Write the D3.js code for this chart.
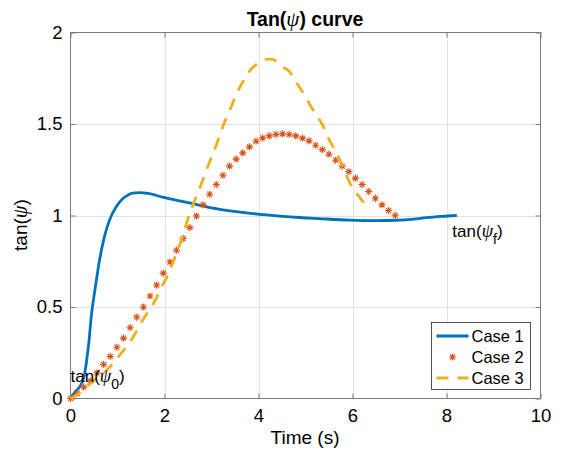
<!DOCTYPE html>
<html>
<head>
<meta charset="utf-8">
<script src="https://cdn.jsdelivr.net/npm/d3@7"></script>
<style>
  html, body { margin: 0; padding: 0; background: #fff; }
  svg { display: block; }
  text { font-family: "Liberation Sans", Arial, Helvetica, sans-serif; fill: #000; }
  .psi { font-family: "Liberation Serif", "DejaVu Serif", serif; font-style: italic; font-size: 1.08em; }
</style>
</head>
<body>
<svg id="chart" width="561" height="453"></svg>
<script>
// Case 1: fast rise, overshoot, settles back to 1
const case1Time = [0, 0.05, 0.1, 0.15, 0.19, 0.25, 0.30, 0.35, 0.40, 0.44, 0.50, 0.55, 0.60, 0.65, 0.70, 0.76, 0.83, 0.90, 0.97, 1.04, 1.11, 1.20, 1.29, 1.38, 1.47, 1.57, 1.68, 1.80, 1.96, 2.15, 2.32, 2.50, 2.67, 3.03, 3.40, 3.74, 4.10, 4.45, 4.87, 5.30, 5.94, 6.50, 6.93, 7.30, 7.57, 7.90, 8.22];
const case1Tan = [0, 0.018, 0.038, 0.05, 0.062, 0.09, 0.135, 0.22, 0.33, 0.445, 0.56, 0.645, 0.73, 0.80, 0.86, 0.92, 0.974, 1.015, 1.047, 1.072, 1.092, 1.108, 1.12, 1.124, 1.125, 1.123, 1.12, 1.112, 1.10, 1.09, 1.08, 1.07, 1.061, 1.04, 1.025, 1.014, 1.005, 0.997, 0.989, 0.983, 0.975, 0.972, 0.974, 0.98, 0.988, 0.995, 1.0];

// Case 2: sampled points drawn as asterisks
const case2Time = [0, 0.141, 0.282, 0.423, 0.564, 0.705, 0.846, 0.987, 1.128, 1.269, 1.41, 1.551, 1.692, 1.833, 1.974, 2.115, 2.256, 2.397, 2.538, 2.679, 2.82, 2.961, 3.102, 3.243, 3.384, 3.525, 3.666, 3.807, 3.948, 4.089, 4.23, 4.371, 4.512, 4.653, 4.794, 4.935, 5.076, 5.217, 5.358, 5.499, 5.64, 5.781, 5.922, 6.063, 6.204, 6.345, 6.486, 6.627, 6.768, 6.909];
const case2Tan = [0, 0.029, 0.062, 0.095, 0.14, 0.186, 0.23, 0.28, 0.33, 0.387, 0.445, 0.50, 0.56, 0.62, 0.685, 0.746, 0.81, 0.874, 0.934, 0.997, 1.058, 1.116, 1.169, 1.22, 1.27, 1.308, 1.342, 1.375, 1.406, 1.424, 1.435, 1.443, 1.446, 1.443, 1.435, 1.423, 1.408, 1.384, 1.36, 1.335, 1.302, 1.27, 1.24, 1.204, 1.169, 1.131, 1.094, 1.058, 1.027, 1.001];

// Case 3: slow start, large overshoot
const case3Time = [0, 0.16, 0.37, 0.55, 0.75, 0.9, 1.04, 1.18, 1.33, 1.43, 1.54, 1.64, 1.79, 1.93, 2.07, 2.18, 2.28, 2.39, 2.5, 2.67, 2.81, 2.92, 3.0, 3.1, 3.2, 3.31, 3.42, 3.52, 3.63, 3.77, 3.88, 3.99, 4.1, 4.2, 4.3, 4.45, 4.56, 4.66, 4.75, 4.84, 4.98, 5.12, 5.26, 5.40, 5.51, 5.65, 5.76, 5.87, 5.97, 6.06, 6.15, 6.24, 6.33];
const case3Tan = [0, 0.025, 0.07, 0.108, 0.15, 0.19, 0.235, 0.28, 0.335, 0.38, 0.43, 0.47, 0.53, 0.605, 0.673, 0.745, 0.81, 0.89, 0.983, 1.10, 1.19, 1.266, 1.32, 1.384, 1.457, 1.53, 1.594, 1.658, 1.713, 1.776, 1.81, 1.83, 1.848, 1.855, 1.853, 1.827, 1.805, 1.786, 1.75, 1.713, 1.658, 1.594, 1.54, 1.476, 1.41, 1.348, 1.284, 1.22, 1.165, 1.13, 1.10, 1.07, 1.038];

const xTicks = [0, 2, 4, 6, 8, 10];
const yTicks = [0, 0.5, 1, 1.5, 2];
const legendLabels = ["Case 1", "Case 2", "Case 3"];
const colors = ["#0072BD", "#D95319", "#EDB120"];

const svg = d3.select("#chart");
const plotLeft = 70.5, plotRight = 540.5, plotTop = 32.5, plotBottom = 398.5;

const x = d3.scaleLinear().domain([0, 10]).range([plotLeft, plotRight]);
const y = d3.scaleLinear().domain([0, 2]).range([plotBottom, plotTop]);

// grid
const grid = svg.append("g");
grid.selectAll(".gx").data(xTicks.slice(1, -1)).join("line")
  .attr("x1", d => Math.round(x(d)) + 0.5).attr("x2", d => Math.round(x(d)) + 0.5)
  .attr("y1", plotTop).attr("y2", plotBottom)
  .attr("stroke", "#e3e3e3").attr("stroke-width", 1);
grid.selectAll(".gy").data(yTicks.slice(1, -1)).join("line")
  .attr("y1", d => Math.round(y(d)) + 0.5).attr("y2", d => Math.round(y(d)) + 0.5)
  .attr("x1", plotLeft).attr("x2", plotRight)
  .attr("stroke", "#e3e3e3").attr("stroke-width", 1);

// axes with inward ticks on all four sides
const tickLen = 5;
const axisColor = "#7a7a7a";
function styleAxis(g) {
  g.select(".domain").remove();
  g.selectAll(".tick line").attr("stroke", axisColor);
  g.selectAll(".tick text").style("font-size", "18.5px").attr("fill", "#262626");
}
svg.append("g").attr("transform", `translate(0,${plotBottom})`)
  .call(d3.axisBottom(x).tickValues(xTicks).tickFormat(d3.format("d")).tickSizeInner(-tickLen).tickPadding(10))
  .call(styleAxis);
svg.append("g").attr("transform", `translate(0,${plotTop})`)
  .call(d3.axisTop(x).tickValues(xTicks).tickFormat("").tickSizeInner(-tickLen))
  .call(styleAxis);
svg.append("g").attr("transform", `translate(${plotLeft},0)`)
  .call(d3.axisLeft(y).tickValues(yTicks).tickFormat(d => String(d)).tickSizeInner(-tickLen).tickPadding(8))
  .call(styleAxis);
svg.append("g").attr("transform", `translate(${plotRight},0)`)
  .call(d3.axisRight(y).tickValues(yTicks).tickFormat("").tickSizeInner(-tickLen))
  .call(styleAxis);

// axes box
svg.append("rect")
  .attr("x", plotLeft).attr("y", plotTop).attr("width", plotRight - plotLeft).attr("height", plotBottom - plotTop)
  .attr("fill", "none").attr("stroke", axisColor).attr("stroke-width", 1);

const line = d3.line().x(d => x(d[0])).y(d => y(d[1])).curve(d3.curveMonotoneX);

// case 1
svg.append("path")
  .datum(case1Time.map((t, i) => [t, case1Tan[i]]))
  .attr("d", line)
  .attr("fill", "none").attr("stroke", colors[0]).attr("stroke-width", 2.8)
  .attr("stroke-linejoin", "round");

// case 2 asterisk markers
function asterisk(r) {
  const d = r * Math.SQRT1_2;
  return `M${-r},0L${r},0M0,${-r}L0,${r}M${-d},${-d}L${d},${d}M${-d},${d}L${d},${-d}`;
}
svg.append("g").selectAll("path")
  .data(case2Time.map((t, i) => [t, case2Tan[i]]))
  .join("path")
  .attr("transform", d => `translate(${x(d[0])},${y(d[1])})`)
  .attr("d", asterisk(3.6))
  .attr("fill", "none").attr("stroke", colors[1]).attr("stroke-width", 1.1);

// case 3
svg.append("path")
  .datum(case3Time.map((t, i) => [t, case3Tan[i]]))
  .attr("d", line)
  .attr("fill", "none").attr("stroke", colors[2]).attr("stroke-width", 2.8)
  .attr("stroke-dasharray", "12,9");

// title
const title = svg.append("text")
  .attr("x", 305).attr("y", 25.5).attr("text-anchor", "middle")
  .style("font-size", "19.5px").style("font-weight", "bold");
title.append("tspan").text("Tan(");
title.append("tspan").attr("class", "psi").style("font-weight", "normal").text("ψ");
title.append("tspan").text(") curve");

// axis labels
svg.append("text")
  .attr("x", 305).attr("y", 444).attr("text-anchor", "middle")
  .style("font-size", "19px").attr("fill", "#262626")
  .text("Time (s)");
const ylab = svg.append("text")
  .attr("transform", "translate(27,225) rotate(-90)")
  .attr("text-anchor", "middle")
  .style("font-size", "19px").attr("fill", "#262626");
ylab.append("tspan").text("tan(");
ylab.append("tspan").attr("class", "psi").text("ψ");
ylab.append("tspan").text(")");

// start / end annotations
function annot(px, py, sub) {
  const t = svg.append("text").attr("x", px).attr("y", py).style("font-size", "17px");
  t.append("tspan").text("tan(");
  t.append("tspan").attr("class", "psi").text("ψ");
  t.append("tspan").attr("dy", 7).style("font-size", "14px").text(sub);
  t.append("tspan").attr("dy", -7).text(")");
}
annot(x(0), 382, "0");
annot(x(case1Time[case1Time.length - 1]) - 4.5, 237, "f");

// legend
const lg = svg.append("g");
lg.append("rect")
  .attr("x", 431.5).attr("y", 322.5).attr("width", 99).attr("height", 67)
  .attr("fill", "#fff").attr("stroke", "#262626").attr("stroke-width", 0.8);
const rowY = [336, 357, 378];
legendLabels.forEach((lab, i) => {
  if (i === 1) {
    lg.append("path")
      .attr("transform", `translate(452.5,${rowY[i]})`)
      .attr("d", asterisk(3.6))
      .attr("fill", "none").attr("stroke", colors[1]).attr("stroke-width", 1.1);
  } else {
    lg.append("line")
      .attr("x1", 436.5).attr("x2", 468.5).attr("y1", rowY[i]).attr("y2", rowY[i])
      .attr("stroke", colors[i]).attr("stroke-width", 2.8)
      .attr("stroke-dasharray", i === 2 ? "12,9" : null);
  }
  lg.append("text")
    .attr("x", 471.5).attr("y", rowY[i]).attr("dy", "0.36em")
    .style("font-size", "16.5px")
    .text(lab);
});
</script>
</body>
</html>
